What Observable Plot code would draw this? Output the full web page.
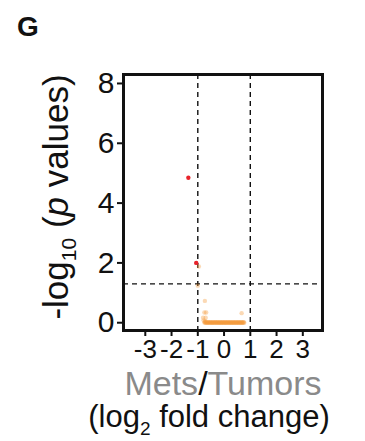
<!DOCTYPE html>
<html><head><meta charset="utf-8">
<script src="https://cdn.jsdelivr.net/npm/d3@7"></script>
<script src="https://cdn.jsdelivr.net/npm/@observablehq/plot@0.6"></script>
<style>
body{margin:0;background:#fff;font-family:"Liberation Sans",Arial,sans-serif}
#wrap{position:relative;width:365px;height:441px}
#panel{position:absolute;left:17px;top:11px;font:bold 28px "Liberation Sans",Arial,sans-serif;color:#111}
</style>
</head><body><div id="wrap"><div id="panel">G</div><div id="chart"></div></div>
<script>
// Tick labels
const xTicks = [-3, -2, -1, 0, 1, 2, 3];
const yTicks = [0, 2, 4, 6, 8];
// Significant (red) points
const sigX = [-1.36, -1.06];
const sigY = [4.85, 2.0];
// Non-significant (orange) points
const nsX = [-0.96, -1.0, -0.73, -0.75, -0.68, 0.67, -0.80, -0.70, -0.78, -0.72,
  -0.75, -0.73, -0.71, -0.69, -0.67, -0.65, -0.63, -0.61, -0.59, -0.57, -0.55, -0.53, -0.51, -0.49, -0.47,
  -0.45, -0.43, -0.41, -0.39, -0.37, -0.35, -0.33, -0.31, -0.29, -0.27, -0.25, -0.23, -0.21, -0.19, -0.17,
  -0.15, -0.13, -0.11, -0.09, -0.07, -0.05, -0.03, -0.01, 0.01, 0.03, 0.05, 0.07, 0.09, 0.11, 0.13,
  0.15, 0.17, 0.19, 0.21, 0.23, 0.25, 0.27, 0.29, 0.31, 0.33, 0.35, 0.37, 0.39, 0.41, 0.43,
  0.45, 0.47, 0.49, 0.51, 0.53, 0.55, 0.57, 0.59, 0.61, 0.63, 0.65, 0.67, 0.69, 0.71, 0.73, 0.75, 0.77];
const nsY = [1.88, 1.24, 0.73, 0.34, 0.34, 0.32, 0.17, 0.17, 0.08, 0.06,
  0.01, 0.02, 0.00, 0.01, 0.02, 0.00, 0.01, 0.00, 0.02, 0.01, 0.00, 0.01, 0.02, 0.00, 0.01,
  0.00, 0.01, 0.02, 0.00, 0.01, 0.00, 0.02, 0.01, 0.00, 0.01, 0.02, 0.00, 0.01, 0.00, 0.01,
  0.02, 0.00, 0.01, 0.00, 0.01, 0.02, 0.00, 0.01, 0.00, 0.01, 0.02, 0.00, 0.01, 0.00, 0.01,
  0.02, 0.00, 0.01, 0.00, 0.01, 0.02, 0.00, 0.01, 0.00, 0.01, 0.02, 0.00, 0.01, 0.00, 0.01,
  0.02, 0.00, 0.01, 0.00, 0.01, 0.02, 0.00, 0.01, 0.00, 0.01, 0.02, 0.00, 0.01, 0.00, 0.01, 0.02, 0.00];
// Thresholds
const fcCut = [-1, 1];
const pCut = [1.3];

const sig = sigX.map((x, i) => ({x, y: sigY[i]}));
const ns = nsX.map((x, i) => ({x, y: nsY[i]}));

const chart = Plot.plot({
  width: 365, height: 441,
  marginLeft: 123, marginRight: 43, marginTop: 74, marginBottom: 111,
  style: {fontFamily: '"Liberation Sans", Arial, sans-serif', color: "#111", background: "#fff"},
  x: {domain: [-3.83, 3.75]},
  y: {domain: [-0.26, 8.3]},
  marks: [
    Plot.ruleX(fcCut, {stroke: "#111", strokeWidth: 1.4, strokeDasharray: "5,4"}),
    Plot.ruleY(pCut, {stroke: "#111", strokeWidth: 1.4, strokeDasharray: "5,4"}),
    Plot.dot(ns, {x: "x", y: "y", r: 2.2, fill: "#f59a3c", fillOpacity: 0.38, stroke: "none"}),
    Plot.dot(sig, {x: "x", y: "y", r: 2.2, fill: "#e8232a", stroke: "none"}),
    Plot.axisX({ticks: xTicks, tickFormat: d => String(d), tickSize: 6, tickPadding: 3, fontSize: 26, label: null, stroke: "#111", strokeWidth: 2}),
    Plot.axisY({ticks: yTicks, tickFormat: d => String(d), tickSize: 6, tickPadding: 3, fontSize: 30, label: null, stroke: "#111", strokeWidth: 2}),
    Plot.frame({stroke: "#111", strokeWidth: 3})
  ]
});
document.getElementById("chart").appendChild(chart);

const svg = d3.select(chart);
// y-axis title
const yt = svg.append("text")
  .attr("transform", "translate(68,197) rotate(-90)")
  .attr("text-anchor", "middle")
  .attr("font-size", 35).attr("fill", "#111");
yt.append("tspan").text("-log");
yt.append("tspan").text("10").attr("font-size", 21).attr("dy", 8);
yt.append("tspan").text(" (").attr("dy", -8);
yt.append("tspan").text("p").attr("font-style", "italic");
yt.append("tspan").text(" values)");
// x-axis titles
const xt1 = svg.append("text").attr("x", 223).attr("y", 395).attr("text-anchor", "middle")
  .attr("font-size", 34);
xt1.append("tspan").text("Mets").attr("fill", "#8a8a8a");
xt1.append("tspan").text("/").attr("fill", "#111");
xt1.append("tspan").text("Tumors").attr("fill", "#8a8a8a");
const xt2 = svg.append("text").attr("x", 209).attr("y", 427).attr("text-anchor", "middle")
  .attr("font-size", 31).attr("fill", "#111");
xt2.append("tspan").text("(log");
xt2.append("tspan").text("2").attr("font-size", 19).attr("dy", 8);
xt2.append("tspan").text(" fold change)").attr("dy", -8);
</script>
</body></html>
